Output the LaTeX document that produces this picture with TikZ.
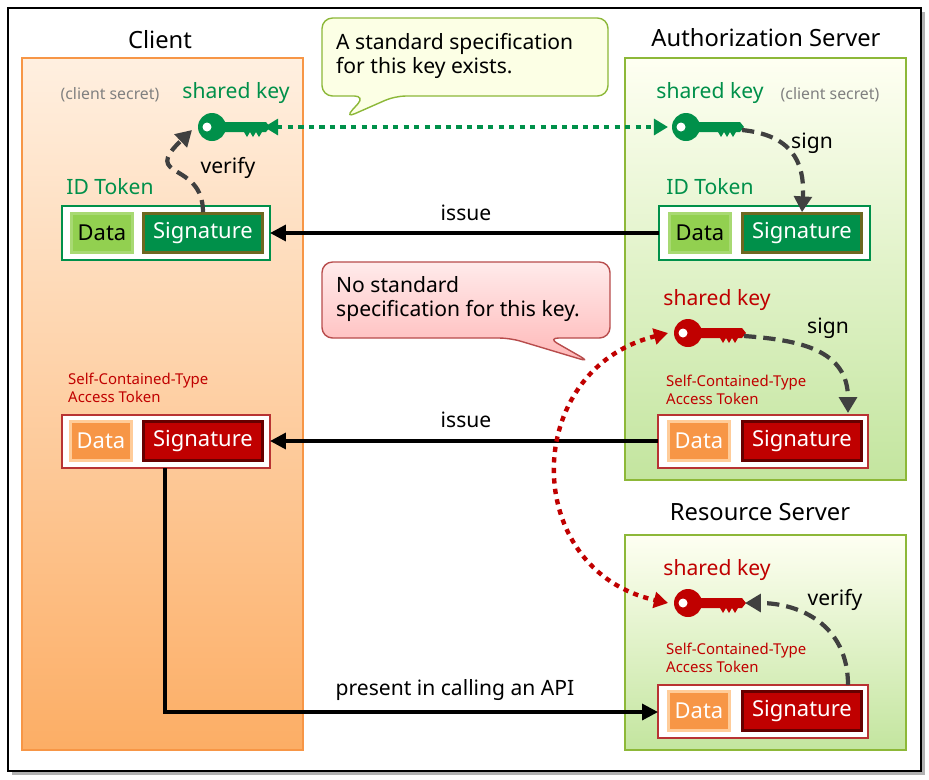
\documentclass[tikz,border=0pt]{standalone}
\usepackage{fontspec}
\setmainfont{Noto Sans}
\usetikzlibrary{arrows.meta}
\definecolor{kgreen}{HTML}{00904A}
\definecolor{lgreen}{HTML}{92D050}
\definecolor{kred}{HTML}{C00000}
\definecolor{lorange}{HTML}{F79646}
\definecolor{dg}{HTML}{404040}
\begin{document}
\begin{tikzpicture}[x=0.02cm,y=-0.02cm,
  title/.style={font=\fontsize{13.5}{15}\selectfont},
  lab/.style={font=\fontsize{12}{14}\selectfont},
  small/.style={font=\fontsize{8.5}{10}\selectfont,text=kred,align=left},
  cell/.style={draw,line width=1.5pt,minimum height=0.78cm,font=\fontsize{12.5}{14}\selectfont,inner sep=1pt},
  dsh/.style={dg,line width=2.4pt,dash pattern=on 7pt off 4pt,-{Triangle[length=9pt,width=10pt]}},
  solid/.style={line width=2pt,-{Triangle[length=9pt,width=9pt]}},
  pics/key/.style={code={
    \fill[#1] (0,0) circle (14);
    \fill[#1] (8,-5) -- (54,-5) -- (58,0) -- (54,5) -- (50,5) -- (47,10) -- (44,5) -- (41,10) -- (38,5) -- (35,10) -- (32,5) -- (8,5) -- cycle;
    \fill[white] (-5,0) circle (4.5);
  }}]
\useasboundingbox (0,0) rectangle (929,779);
\fill[white] (0,0) rectangle (929,779);
\fill[gray!60] (12,12) rectangle (925,775);
\draw[line width=1pt,fill=white] (8,8) rectangle (921,771);
% panels
\shade[top color=orange!12,bottom color=orange!50!lorange!70] (22,58) rectangle (303,750);
\draw[lorange,line width=1.2pt] (22,58) rectangle (303,750);
\shade[top color=green!5!yellow!5,bottom color=lgreen!55] (625,58) rectangle (906,480);
\draw[lgreen!70!olive,line width=1.2pt] (625,58) rectangle (906,480);
\shade[top color=green!5!yellow!5,bottom color=lgreen!55] (625,535) rectangle (906,750);
\draw[lgreen!70!olive,line width=1.2pt] (625,535) rectangle (906,750);
\node[title] (tc) at (160,40) {Client};
\node[title] (ta) at (766,38) {Authorization Server};
\node[title] (tr) at (760,512) {Resource Server};
% callouts
\fill[green!12!yellow!10,draw=lgreen!70!olive,line width=0.8pt,rounded corners=6pt]
  (322,18) -- (608,18) -- (608,96) -- (395,96) -- (345,118) -- (365,96) -- (322,96) -- cycle;
\node[lab,align=left,anchor=west] (c1) at (330,56) {A standard specification\\for this key exists.};
\shade[top color=red!8,bottom color=red!28,draw=red!60!black!70,line width=0.8pt,rounded corners=6pt]
  (322,262) -- (610,262) -- (610,338) -- (548,338) -- (590,362) -- (510,338) -- (322,338) -- cycle;
\node[lab,align=left,anchor=west] (c2) at (330,299) {No standard\\specification for this key.};
% client ID token
\node[small,text=gray,font=\fontsize{9}{10}\selectfont] (cs1) at (110,95) {(client secret)};
\node[lab,text=kgreen] (sk1) at (236,93) {shared key};
\pic at (212,127) {key=kgreen};
\coordinate (k1r) at (264,127);
\node[lab,text=kgreen] (id1) at (110,187) {ID Token};
\draw[kgreen,line width=1.5pt,fill=white] (62,206) rectangle (270,260);
\node[cell,draw=lgreen!80!white,fill=lgreen,minimum width=1.22cm] (d1) at (102,233) {Data};
\node[cell,draw=olive!70!black,fill=kgreen,text=white,minimum width=2.38cm] (s1) at (203,233) {Signature};
\draw[dsh] (s1.north) .. controls (203,160) and (140,180) .. (192,130);
\node[lab] (v1) at (228,168) {verify};
% auth ID token
\node[lab,text=kgreen] (sk2) at (710,93) {shared key};
\node[small,text=gray,font=\fontsize{9}{10}\selectfont] (cs2) at (830,95) {(client secret)};
\pic at (686,127) {key=kgreen};
\coordinate (k2) at (668,127);
\node[lab,text=kgreen] (id2) at (710,187) {ID Token};
\draw[kgreen,line width=1.5pt,fill=white] (659,206) rectangle (870,260);
\node[cell,draw=lgreen!80!white,fill=lgreen,minimum width=1.22cm] (d2) at (700,233) {Data};
\node[cell,draw=olive!70!black,fill=kgreen,text=white,minimum width=2.38cm] (s2) at (802,233) {Signature};
\draw[dsh] (742,130) .. controls (790,135) and (805,160) .. (s2.north);
\node[lab] (sg1) at (812,143) {sign};
\draw[kgreen,line width=2.5pt,dash pattern=on 3pt off 3pt,{Triangle[length=8pt,width=9pt]}-{Triangle[length=8pt,width=9pt]}] (k1r) -- (k2);
\draw[solid] (659,233) -- (270,233);
\node[lab] (i1) at (466,213) {issue};
% auth access token
\node[lab,text=kred] (sk3) at (717,300) {shared key};
\pic at (688,333) {key=kred};
\coordinate (k3) at (668,333);
\node[small,anchor=west] (st3) at (660,390) {Self-Contained-Type\\Access Token};
\draw[red!65!black!80,line width=1.5pt,fill=white] (658,415) rectangle (868,468);
\node[cell,draw=orange!40!white,fill=lorange,text=white,minimum width=1.22cm] (d3) at (699,441) {Data};
\node[cell,draw=red!40!black,fill=kred,text=white,minimum width=2.38cm] (s3) at (802,441) {Signature};
\draw[dsh] (744,336) .. controls (800,340) and (848,350) .. (848,413);
\node[lab] (sg2) at (828,328) {sign};
% client access token
\node[small,anchor=west] (st4) at (62,388) {Self-Contained-Type\\Access Token};
\draw[red!65!black!80,line width=1.5pt,fill=white] (62,415) rectangle (270,468);
\node[cell,draw=orange!40!white,fill=lorange,text=white,minimum width=1.22cm] (d4) at (101,441) {Data};
\node[cell,draw=red!40!black,fill=kred,text=white,minimum width=2.38cm] (s4) at (203,441) {Signature};
\draw[solid] (658,441) -- (270,441);
\node[lab] (i2) at (466,420) {issue};
% resource
\node[lab,text=kred] (sk5) at (717,570) {shared key};
\pic at (688,603) {key=kred};
\coordinate (k5) at (668,603);
\node[small,anchor=west] (st5) at (660,658) {Self-Contained-Type\\Access Token};
\draw[red!65!black!80,line width=1.5pt,fill=white] (658,685) rectangle (868,738);
\node[cell,draw=orange!40!white,fill=lorange,text=white,minimum width=1.22cm] (d5) at (699,711) {Data};
\node[cell,draw=red!40!black,fill=kred,text=white,minimum width=2.38cm] (s5) at (802,711) {Signature};
\draw[dsh] (848,685) .. controls (848,625) and (800,603) .. (745,603);
\node[lab] (v5) at (835,600) {verify};
\draw[kred,line width=2.5pt,dash pattern=on 3pt off 3pt,{Triangle[length=8pt,width=9pt]}-{Triangle[length=8pt,width=9pt]}] (k3) .. controls (520,370) and (520,570) .. (k5);
% present
\draw[solid] (165,468) -- (165,712) -- (658,712);
\node[lab] (p1) at (455,690) {present in calling an API};
\end{tikzpicture}
\end{document}
